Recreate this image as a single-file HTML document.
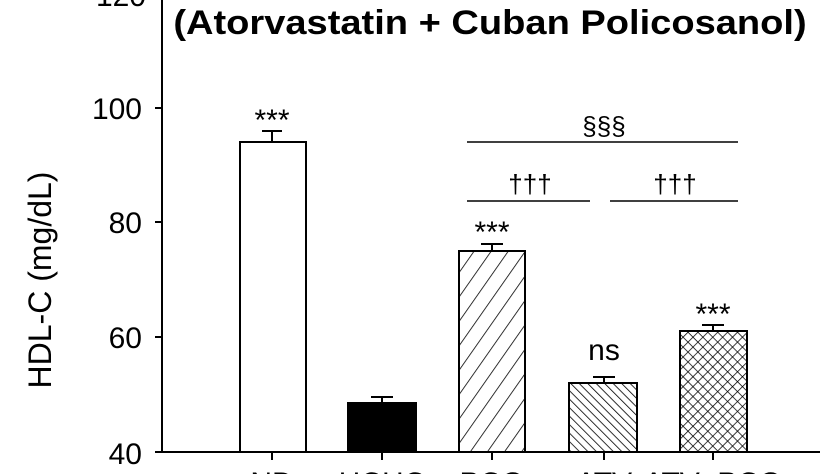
<!DOCTYPE html>
<html><head><style>html,body{margin:0;background:#fff;width:833px;height:474px;overflow:hidden}svg{display:block}</style></head><body>
<svg width="833" height="474" viewBox="0 0 833 474" xmlns="http://www.w3.org/2000/svg" font-family="Liberation Sans, Arial, sans-serif">
<defs>
<pattern id="p1" patternUnits="userSpaceOnUse" width="14" height="14" patternTransform="rotate(35)"><line x1="0" y1="0" x2="0" y2="14" stroke="#000" stroke-width="1.6"/></pattern>
<pattern id="p2" patternUnits="userSpaceOnUse" width="6" height="6" patternTransform="rotate(-45)"><line x1="0" y1="0" x2="0" y2="6" stroke="#000" stroke-width="1.6"/></pattern>
<pattern id="p3" patternUnits="userSpaceOnUse" width="7" height="7" patternTransform="rotate(45)"><line x1="0" y1="0" x2="0" y2="7" stroke="#000" stroke-width="1.5"/><line x1="0" y1="0" x2="7" y2="0" stroke="#000" stroke-width="1.5"/></pattern>
</defs>
<text x="490" y="34" font-size="34" font-weight="bold" text-anchor="middle" transform="translate(490 0) scale(1.12 1) translate(-490 0)">(Atorvastatin + Cuban Policosanol)</text>
<text x="146" y="6" font-size="30" text-anchor="end">120</text>
<line x1="162" y1="0" x2="162" y2="452" stroke="#000" stroke-width="2"/>
<line x1="155" y1="452" x2="820" y2="452" stroke="#000" stroke-width="2"/>
<g stroke="#000" stroke-width="2">
<line x1="155" y1="108" x2="162" y2="108"/><line x1="155" y1="222" x2="162" y2="222"/><line x1="155" y1="337" x2="162" y2="337"/>
<line x1="272" y1="452" x2="272" y2="460"/><line x1="382" y1="452" x2="382" y2="460"/><line x1="492" y1="452" x2="492" y2="460"/><line x1="604" y1="452" x2="604" y2="460"/><line x1="713" y1="452" x2="713" y2="460"/>
</g>
<g font-size="30" text-anchor="end">
<text x="142" y="119">100</text><text x="142" y="233">80</text><text x="142" y="348">60</text><text x="142" y="464">40</text>
</g>
<text transform="translate(51 280) rotate(-90)" font-size="32" text-anchor="middle">HDL-C (mg/dL)</text>
<g stroke="#000" stroke-width="2">
<line x1="272" y1="131" x2="272" y2="142"/><line x1="262" y1="131" x2="282" y2="131"/>
<line x1="382" y1="397" x2="382" y2="403"/><line x1="371" y1="397" x2="393" y2="397"/>
<line x1="492" y1="244" x2="492" y2="251"/><line x1="481" y1="244" x2="503" y2="244"/>
<line x1="604" y1="377" x2="604" y2="383"/><line x1="593" y1="377" x2="615" y2="377"/>
<line x1="713" y1="325" x2="713" y2="331"/><line x1="702" y1="325" x2="724" y2="325"/>
</g>
<rect x="240" y="142" width="66" height="310" fill="#fff" stroke="#000" stroke-width="2"/>
<rect x="348" y="403" width="68" height="49" fill="#000" stroke="#000" stroke-width="2"/>
<rect x="459" y="251" width="66" height="201" fill="url(#p1)" stroke="#000" stroke-width="2"/>
<rect x="569" y="383" width="68" height="69" fill="url(#p2)" stroke="#000" stroke-width="2"/>
<rect x="680" y="331" width="67" height="121" fill="url(#p3)" stroke="#000" stroke-width="2"/>
<g font-size="30" text-anchor="middle">
<text x="272" y="130">***</text>
<text x="492" y="242">***</text>
<text x="604" y="360">ns</text>
<text x="713" y="324">***</text>
<text x="604" y="135" font-size="26">§§§</text>
<text x="530" y="193" font-size="26">†††</text>
<text x="675" y="193" font-size="26">†††</text>
</g>
<g stroke="#000" stroke-width="1.5">
<line x1="467" y1="142" x2="738" y2="142"/>
<line x1="467" y1="201" x2="590" y2="201"/>
<line x1="610" y1="201" x2="738" y2="201"/>
</g>
<g font-size="30" text-anchor="middle">
<text x="272" y="493">ND</text><text x="382" y="493">HCHC</text><text x="492" y="493">PCO</text><text x="604" y="493">ATV</text><text x="713" y="493">ATV+PCO</text>
</g>
</svg>
</body></html>
